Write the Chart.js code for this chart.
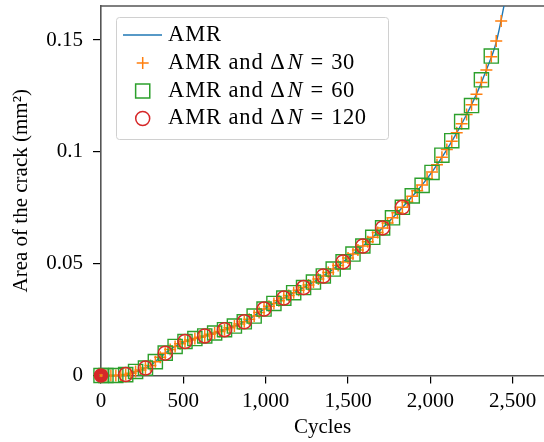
<!DOCTYPE html>
<html>
<head>
<meta charset="utf-8">
<title>Area of the crack</title>
<script src="https://cdn.jsdelivr.net/npm/chart.js@4.4.1/dist/chart.umd.min.js"></script>
<style>
  html, body { margin: 0; padding: 0; background: #ffffff; }
  #chart { display: block; }
</style>
</head>
<body>
<canvas id="chart" width="544" height="442"></canvas>
<script>
// Tick values and labels
const xTicks = [0, 500, 1000, 1500, 2000, 2500];
const xTickLabels = ["0", "500", "1,000", "1,500", "2,000", "2,500"];
const yTicks = [0, 0.05, 0.1, 0.15];
const yTickLabels = ["0", "0.05", "0.1", "0.15"];

// AMR (solid line)
const amrCycles = [0, 60, 120, 180, 240, 300, 360, 420, 480, 540, 600, 660, 720, 780, 840, 900, 960,
  1020, 1080, 1140, 1200, 1260, 1320, 1380, 1440, 1500, 1560, 1620, 1680, 1740, 1800, 1860, 1920,
  1980, 2040, 2100, 2160, 2220, 2280, 2340, 2400, 2460];
const amrArea = [0, 0, 0.0001, 0.0010, 0.0025, 0.0045, 0.0082, 0.0116, 0.0142, 0.0159, 0.0171, 0.0184,
  0.0197, 0.0213, 0.0230, 0.0252, 0.0282, 0.0310, 0.0334, 0.0358, 0.0381, 0.0405, 0.0431, 0.0460,
  0.0492, 0.0525, 0.0561, 0.0598, 0.0639, 0.0682, 0.0728, 0.0776, 0.0826, 0.0880, 0.0942, 0.1010,
  0.1085, 0.1167, 0.1258, 0.1366, 0.1490, 0.1700];

// AMR and dN = 30 (crosses)
const dn30Cycles = [0, 30, 60, 90, 120, 150, 180, 210, 240, 270, 300, 330, 360, 390, 420, 450, 480,
  510, 540, 570, 600, 630, 660, 690, 720, 750, 780, 810, 840, 870, 900, 930, 960, 990, 1020, 1050,
  1080, 1110, 1140, 1170, 1200, 1230, 1260, 1290, 1320, 1350, 1380, 1410, 1440, 1470, 1500, 1530,
  1560, 1590, 1620, 1650, 1680, 1710, 1740, 1770, 1800, 1830, 1860, 1890, 1920, 1950, 1980, 2010,
  2040, 2070, 2100, 2130, 2160, 2190, 2220, 2250, 2280, 2310, 2340, 2370, 2400, 2430];
const dn30Area = [0, 0, 0, 0, 0.0001, 0.0004, 0.0010, 0.0018, 0.0025, 0.0033, 0.0045, 0.0062, 0.0082,
  0.0100, 0.0116, 0.0130, 0.0142, 0.0152, 0.0159, 0.0165, 0.0171, 0.0177, 0.0184, 0.0190, 0.0197,
  0.0205, 0.0213, 0.0221, 0.0230, 0.0240, 0.0252, 0.0266, 0.0282, 0.0297, 0.0310, 0.0322, 0.0334,
  0.0346, 0.0358, 0.0370, 0.0381, 0.0393, 0.0405, 0.0418, 0.0431, 0.0445, 0.0460, 0.0476, 0.0492,
  0.0508, 0.0525, 0.0543, 0.0561, 0.0579, 0.0598, 0.0618, 0.0639, 0.0660, 0.0682, 0.0705, 0.0728,
  0.0752, 0.0776, 0.0801, 0.0826, 0.0852, 0.0880, 0.0910, 0.0942, 0.0976, 0.1010, 0.1047, 0.1085,
  0.1125, 0.1167, 0.1210, 0.1258, 0.1310, 0.1366, 0.1425, 0.1495, 0.1585];

// AMR and dN = 60 (squares)
const dn60Cycles = [0, 30, 90, 150, 210, 270, 330, 390, 450, 510, 570, 630, 690, 750, 810, 870, 930,
  990, 1050, 1110, 1170, 1230, 1290, 1350, 1410, 1470, 1530, 1590, 1650, 1710, 1770, 1830, 1890,
  1950, 2010, 2070, 2130, 2190, 2250, 2310, 2370];
const dn60Area = [0, 0, 0, 0.0004, 0.0018, 0.0033, 0.0062, 0.0100, 0.0130, 0.0152, 0.0165, 0.0177,
  0.0190, 0.0205, 0.0221, 0.0240, 0.0266, 0.0297, 0.0322, 0.0346, 0.0370, 0.0393, 0.0418, 0.0445,
  0.0476, 0.0508, 0.0543, 0.0579, 0.0618, 0.0660, 0.0705, 0.0752, 0.0803, 0.0850, 0.0908, 0.0985,
  0.1050, 0.1135, 0.1207, 0.1322, 0.1428];

// AMR and dN = 120 (circles)
const dn120Cycles = [0, 150, 270, 390, 510, 630, 750, 870, 990, 1110, 1230, 1350, 1470, 1590, 1710, 1830];
const dn120Area = [0, 0.0004, 0.0033, 0.0100, 0.0152, 0.0177, 0.0205, 0.0240, 0.0297, 0.0346, 0.0393,
  0.0445, 0.0508, 0.0579, 0.0660, 0.0752];

const seriesLabels = ["AMR", "AMR and \u0394N = 30", "AMR and \u0394N = 60", "AMR and \u0394N = 120"];

//Turn two arrays into {x, y} points
function toPoints(xs, ys) {
  return xs.map((x, i) => ({ x: x, y: ys[i] }));
}

const FONT = "'Liberation Serif', 'Times New Roman', serif";
const SPINE = "#555555";

Chart.defaults.font.family = FONT;
Chart.defaults.font.size = 21;
Chart.defaults.color = "#000000";

//Top frame line (matplotlib spine)
const topSpine = {
  id: "topSpine",
  beforeDatasetsDraw(chart) {
    const { ctx, chartArea } = chart;
    ctx.save();
    ctx.strokeStyle = SPINE;
    ctx.lineWidth = 1.6;
    ctx.beginPath();
    ctx.moveTo(chartArea.left, chartArea.top);
    ctx.lineTo(chartArea.right, chartArea.top);
    ctx.stroke();
    ctx.restore();
  },
};

//Draw one legend marker
function drawMarker(ctx, ds, x, y) {
  ctx.strokeStyle = ds.borderColor;
  ctx.lineWidth = 1.5;
  ctx.beginPath();
  if (ds.pointStyle === "cross") {
    const r = ds.pointRadius;
    ctx.moveTo(x - r, y);
    ctx.lineTo(x + r, y);
    ctx.moveTo(x, y - r);
    ctx.lineTo(x, y + r);
  } else if (ds.pointStyle === "rect") {
    const s = ds.pointRadius * Math.SQRT1_2;
    ctx.rect(x - s, y - s, 2 * s, 2 * s);
  } else {
    ctx.arc(x, y, 7, 0, Math.PI * 2);
  }
  ctx.stroke();
}

//Legend box in the upper left, with the italic N
const legendBox = {
  id: "legendBox",
  afterDatasetsDraw(chart) {
    const ctx = chart.ctx;
    const rows = [35, 63, 91, 118.5];
    ctx.save();
    ctx.beginPath();
    ctx.roundRect(116.5, 17.5, 272, 122, 3);
    ctx.fillStyle = "rgba(255,255,255,0.85)";
    ctx.fill();
    ctx.strokeStyle = "#d0d0d0";
    ctx.lineWidth = 1;
    ctx.stroke();

    chart.data.datasets.forEach((ds, i) => {
      const y = rows[i];
      if (ds.showLine) {
        ctx.strokeStyle = ds.borderColor;
        ctx.lineWidth = 1.4;
        ctx.beginPath();
        ctx.moveTo(123, y);
        ctx.lineTo(162, y);
        ctx.stroke();
      } else {
        drawMarker(ctx, ds, 142.7, y);
      }
      // text, split around the N
      ctx.fillStyle = "#000000";
      ctx.textBaseline = "middle";
      ctx.textAlign = "left";
      const parts = ds.label.split("N");
      let x = 168;
      ctx.font = "22.5px " + FONT;
      ctx.letterSpacing = "0.9px";
      ctx.fillText(parts[0], x, y);
      if (parts.length > 1) {
        x += ctx.measureText(parts[0]).width + 2;
        ctx.letterSpacing = "0px";
        ctx.font = "italic 22.5px " + FONT;
        ctx.fillText("N", x, y);
        x += ctx.measureText("N").width + 8;
        ctx.font = "22.5px " + FONT;
        ctx.fillText("=", x, y);
        x += ctx.measureText("=").width + 8;
        ctx.letterSpacing = "0.5px";
        ctx.fillText(parts[1].replace("=", "").trim(), x, y);
      }
      ctx.letterSpacing = "0px";
    });
    ctx.restore();
  },
};

const canvasRef = document.getElementById("chart");

let myChart = new Chart(canvasRef, {
  type: "scatter",
  data: {
    datasets: [
      {
        label: seriesLabels[0],
        data: toPoints(amrCycles, amrArea),
        showLine: true,
        borderColor: "#1f77b4",
        borderWidth: 1.4,
        pointRadius: 0,
        cubicInterpolationMode: "monotone",
        order: 4,
      },
      {
        label: seriesLabels[1],
        data: toPoints(dn30Cycles, dn30Area),
        pointStyle: "cross",
        pointRadius: 6,
        borderColor: "#ff7f0e",
        backgroundColor: "rgba(0,0,0,0)",
        pointBorderWidth: 1.5,
        clip: false,
        order: 3,
      },
      {
        label: seriesLabels[2],
        data: toPoints(dn60Cycles, dn60Area),
        pointStyle: "rect",
        pointRadius: 10,
        borderColor: "#2ca02c",
        backgroundColor: "rgba(0,0,0,0)",
        pointBorderWidth: 1.4,
        clip: false,
        order: 2,
      },
      {
        label: seriesLabels[3],
        data: toPoints(dn120Cycles, dn120Area),
        pointStyle: "circle",
        pointRadius: (c) => (c.dataIndex === 0 ? 4.5 : 7),
        borderColor: "#d62728",
        backgroundColor: "rgba(0,0,0,0)",
        pointBorderWidth: (c) => (c.dataIndex === 0 ? 5.5 : 1.5),
        clip: false,
        order: 1,
      },
    ],
  },
  options: {
    responsive: false,
    animation: false,
    layout: { autoPadding: false, padding: { top: 6, right: 0, bottom: 0, left: 0 } },
    plugins: {
      legend: { display: false },
      tooltip: { enabled: false },
    },
    scales: {
      x: {
        type: "linear",
        min: 0,
        max: 2690,
        afterBuildTicks: (scale) => {
          scale.ticks = xTicks.map((v) => ({ value: v }));
        },
        afterFit: (scale) => {
          scale.height = 66.5;
          scale.paddingLeft = 0;
          scale.paddingRight = 0;
        },
        ticks: {
          padding: 5.5,
          maxRotation: 0,
          callback: (v, i) => xTickLabels[i],
        },
        grid: { drawOnChartArea: false, drawTicks: true, tickLength: 8, color: "#000000", lineWidth: 1.2 },
        border: { display: true, color: SPINE, width: 1.6 },
        title: { display: true, text: "Cycles", padding: { top: 0, bottom: 2 } },
      },
      y: {
        type: "linear",
        min: 0,
        max: 0.1652,
        afterBuildTicks: (scale) => {
          scale.ticks = yTicks.map((v) => ({ value: v }));
        },
        afterFit: (scale) => {
          scale.width = 101;
          scale.paddingTop = 0;
          scale.paddingBottom = 0;
        },
        ticks: {
          padding: 10,
          callback: (v, i) => yTickLabels[i],
        },
        grid: { drawOnChartArea: false, drawTicks: true, tickLength: 8, color: "#000000", lineWidth: 1.2 },
        border: { display: true, color: SPINE, width: 1.6 },
        title: { display: true, text: "Area of the crack (mm\u00b2)", padding: { top: 8.4, bottom: 0 } },
      },
    },
  },
  plugins: [topSpine, legendBox],
});
</script>
</body>
</html>
